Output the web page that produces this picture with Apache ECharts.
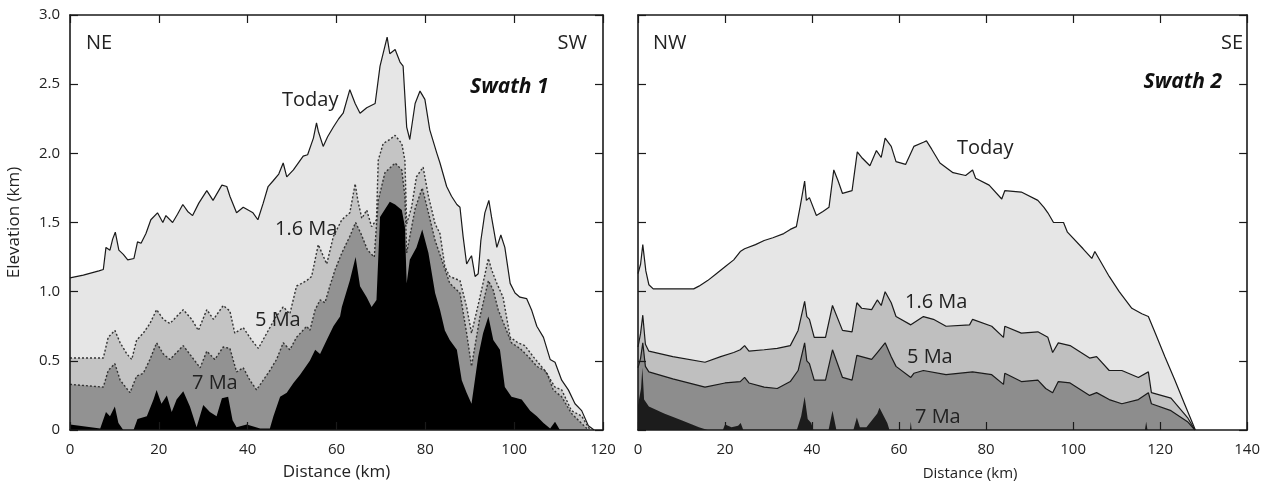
<!DOCTYPE html>
<html>
<head>
<meta charset="utf-8">
<script src="https://cdn.jsdelivr.net/npm/echarts@6/dist/echarts.min.js"></script>
<style>
  html, body { margin: 0; padding: 0; background: #fff; }
  #chart { width: 1263px; height: 487px; }
</style>
</head>
<body>
<div id="chart"></div>
<script>
// Swath 1 (NE -> SW), [distance km, elevation km]
const s1Today = [[0,1.10],[3,1.12],[6.5,1.15],[7.5,1.16],[8.1,1.32],[9,1.30],[9.6,1.38],[10.2,1.43],[11,1.30],[12,1.27],[13,1.23],[14.4,1.24],[15.2,1.36],[16,1.35],[17.1,1.42],[18.2,1.52],[19.7,1.57],[20.9,1.50],[21.6,1.55],[23.1,1.50],[24.2,1.56],[25.4,1.63],[26.5,1.58],[27.6,1.55],[29,1.64],[30.8,1.73],[32.2,1.66],[34.2,1.77],[35.3,1.76],[36,1.69],[37.5,1.57],[39,1.61],[41.2,1.57],[42.3,1.52],[43.5,1.64],[44.6,1.76],[45.7,1.80],[47,1.85],[48,1.93],[48.8,1.83],[50.3,1.88],[52.5,1.98],[53.5,1.99],[54.8,2.11],[55.5,2.22],[55.9,2.16],[57,2.05],[58,2.12],[59.3,2.19],[60.5,2.25],[61.5,2.29],[63,2.46],[64.2,2.36],[65.3,2.29],[66.8,2.33],[68.7,2.36],[69.8,2.63],[71.4,2.84],[72,2.72],[73.2,2.75],[74.3,2.66],[75,2.63],[75.8,2.19],[76.5,2.10],[77.7,2.36],[78.8,2.45],[79.9,2.39],[81,2.17],[82.6,2.00],[83.3,1.93],[84.8,1.76],[85.9,1.69],[87.1,1.63],[87.8,1.61],[88.5,1.40],[89.3,1.20],[90,1.24],[90.4,1.26],[91.2,1.11],[91.9,1.13],[92.5,1.37],[93.4,1.57],[94.3,1.66],[94.9,1.54],[96.1,1.32],[97,1.41],[97.9,1.32],[99.1,1.06],[100.2,0.99],[101.3,0.96],[102.8,0.95],[103.9,0.87],[105.1,0.75],[106.6,0.67],[108.1,0.51],[109.2,0.49],[110.7,0.36],[112.2,0.29],[113.7,0.19],[115.2,0.14],[116.7,0.03],[118,0]];
const s1Ma16 = [[0,0.52],[7.5,0.52],[8.6,0.67],[10.1,0.72],[11.3,0.63],[12.8,0.55],[13.9,0.51],[15,0.65],[16.5,0.70],[18,0.77],[19.5,0.87],[21,0.80],[22.5,0.77],[24,0.82],[25.5,0.87],[27.4,0.80],[28.9,0.72],[30.8,0.87],[32.3,0.80],[34.5,0.90],[36,0.86],[37.1,0.70],[39,0.74],[40.9,0.65],[42.4,0.59],[44.3,0.70],[46.2,0.81],[48,0.89],[49.5,0.84],[51,1.04],[53.3,1.08],[54.4,1.11],[55.5,1.28],[55.9,1.34],[57.8,1.20],[59.3,1.40],[61.2,1.52],[63,1.57],[64.2,1.78],[64.8,1.66],[65.7,1.53],[66.8,1.59],[67.9,1.47],[69,1.52],[69.4,1.95],[70.5,2.07],[72,2.10],[73.2,2.13],[74.7,2.07],[75.4,1.95],[75.8,1.49],[76.9,1.61],[78,1.83],[79.5,1.90],[80.7,1.69],[82.2,1.49],[83.3,1.42],[84.4,1.18],[85.5,1.11],[87.8,1.08],[89.3,0.89],[90.4,0.70],[92.3,0.96],[94.2,1.24],[94.9,1.16],[96.1,1.06],[97.5,0.96],[99.1,0.67],[100.9,0.63],[102.4,0.61],[104.3,0.53],[106.9,0.43],[109.2,0.31],[110.7,0.29],[112.9,0.14],[115.2,0.10],[117.1,0]];
const s1Ma5 = [[0,0.33],[7.5,0.31],[8.6,0.43],[10.1,0.48],[11.3,0.36],[13.5,0.27],[15,0.39],[16.5,0.41],[18,0.51],[19.5,0.63],[21,0.55],[22.5,0.51],[25.5,0.61],[27.4,0.53],[29.3,0.45],[30.8,0.57],[32.6,0.51],[34.5,0.60],[36,0.59],[37.5,0.42],[39,0.45],[40.5,0.36],[42,0.29],[43.5,0.36],[45,0.43],[46.5,0.51],[48,0.63],[49.5,0.58],[51,0.67],[53.3,0.75],[54,0.72],[55.2,0.87],[56.3,0.94],[57.4,0.92],[58.5,1.04],[59.7,1.16],[61.2,1.28],[63,1.40],[64.3,1.50],[65.5,1.42],[67,1.30],[68.5,1.25],[69.4,1.66],[70.9,1.86],[73.2,1.93],[74.7,1.88],[75.4,1.69],[75.8,1.28],[77.7,1.60],[79.3,1.75],[80.7,1.57],[82.2,1.37],[83.7,1.23],[85.5,1.06],[87.8,0.99],[89.3,0.70],[90.4,0.46],[92.3,0.82],[94.2,1.08],[95.3,1.01],[96.4,0.87],[97.9,0.75],[99.4,0.63],[101.3,0.59],[103.2,0.53],[105.1,0.46],[107.3,0.42],[108.8,0.29],[110.7,0.24],[112.9,0.12],[114.8,0.06],[116.7,0]];
const s1Ma7 = [[0,0.04],[6.8,0.01],[8.1,0.13],[9,0.10],[10.1,0.17],[10.9,0.05],[12,0],[14.3,0],[15.2,0.08],[17.3,0.10],[18.8,0.22],[19.5,0.29],[20.6,0.19],[21.8,0.25],[22.9,0.13],[24,0.22],[25.5,0.28],[27,0.17],[28.5,0.02],[30,0.18],[31.5,0.13],[33,0.10],[34.2,0.23],[35.6,0.24],[36.6,0.07],[37.5,0.02],[39.8,0.04],[42.8,0.01],[45,0.01],[45.8,0.10],[47.3,0.24],[48.8,0.27],[50.3,0.34],[51.8,0.40],[54,0.50],[55.2,0.58],[56.3,0.55],[57.8,0.65],[59.3,0.75],[60.8,0.82],[61.2,0.89],[63,1.08],[64.3,1.25],[65.3,1.04],[66.8,0.96],[67.9,0.89],[69,0.94],[69.8,1.54],[72,1.65],[73.2,1.63],[74.7,1.59],[75.4,1.47],[75.8,1.06],[76.5,1.23],[78,1.32],[79.3,1.45],[80.7,1.28],[82.2,0.99],[83.3,0.87],[84.4,0.72],[85.5,0.65],[87.1,0.58],[88.2,0.36],[89.3,0.27],[90.4,0.19],[91.9,0.53],[93,0.70],[94.2,0.82],[95.3,0.65],[96.8,0.58],[97.9,0.31],[99.4,0.24],[101.7,0.22],[103.6,0.14],[105.1,0.10],[106.6,0.05],[108.1,0.01],[109.2,0.06],[110.3,0]];

// Swath 2 (NW -> SE)
const s2Today = [[0,1.13],[0.6,1.20],[1.1,1.34],[1.8,1.15],[2.5,1.05],[3.5,1.02],[12.8,1.02],[14,1.04],[16,1.08],[18,1.13],[20,1.18],[22,1.23],[23.5,1.29],[24.5,1.31],[27,1.34],[29,1.37],[31,1.39],[33.5,1.42],[35,1.45],[36.4,1.47],[37.3,1.62],[38.3,1.80],[38.7,1.66],[39.4,1.68],[41,1.55],[42.5,1.58],[43.9,1.61],[45,1.88],[46,1.80],[47,1.71],[49.2,1.73],[50.4,2.01],[51.4,1.97],[53.3,1.91],[54.8,2.02],[55.9,1.97],[56.8,2.11],[58.2,2.05],[59.3,1.94],[61.5,1.92],[63.4,2.05],[65.6,2.08],[66.3,2.09],[67.5,2.03],[69.4,1.93],[72.4,1.86],[75.3,1.84],[76.9,1.88],[77.6,1.82],[80.7,1.77],[83.6,1.67],[84.3,1.73],[88.1,1.72],[91.9,1.66],[93.3,1.61],[94.2,1.57],[95.5,1.50],[97.8,1.50],[98.7,1.43],[102.3,1.31],[104.3,1.24],[105,1.29],[108.3,1.11],[110.6,1.00],[113.5,0.88],[115.8,0.84],[117.3,0.82],[118.9,0.70],[121.1,0.53],[123.4,0.36],[125.6,0.19],[128.1,0]];
const s2Ma16 = [[0,0.60],[0.6,0.70],[1.1,0.83],[1.7,0.62],[2.5,0.57],[8,0.53],[15.4,0.49],[19,0.53],[22,0.56],[23.5,0.58],[24.5,0.61],[25.5,0.57],[29,0.58],[32,0.59],[35,0.61],[36.8,0.72],[38.3,0.93],[38.8,0.82],[39.4,0.80],[40.5,0.67],[43.1,0.67],[44.7,0.90],[47,0.72],[49.2,0.71],[50.3,0.92],[51.4,0.88],[53.7,0.87],[55,0.94],[55.9,0.90],[56.8,1.00],[58.2,0.92],[59.3,0.82],[62.7,0.76],[65.6,0.82],[67.9,0.80],[70.8,0.75],[76.2,0.76],[76.9,0.80],[81.3,0.75],[84,0.67],[84.3,0.75],[88.1,0.70],[91.9,0.71],[94.2,0.67],[95.3,0.56],[96.6,0.63],[99.3,0.61],[103.8,0.52],[105.4,0.53],[108.3,0.43],[111.2,0.43],[115,0.38],[117.3,0.42],[118,0.27],[122.5,0.23],[126.3,0.09],[128,0]];
const s2Ma5 = [[0,0.45],[0.6,0.52],[1.1,0.63],[1.7,0.46],[2.5,0.42],[8,0.37],[15.4,0.31],[20,0.34],[23.5,0.35],[24.5,0.38],[25.5,0.34],[29,0.31],[32,0.30],[35,0.35],[36.8,0.43],[38.3,0.63],[38.8,0.50],[39.4,0.48],[40.5,0.36],[43.1,0.36],[44.7,0.58],[47,0.38],[49.2,0.36],[50.3,0.54],[53.7,0.51],[55,0.56],[56.8,0.63],[58.2,0.53],[59.3,0.46],[62.7,0.38],[63.4,0.41],[65.6,0.43],[70.8,0.40],[76.9,0.42],[81.3,0.40],[84,0.33],[84.3,0.41],[88.1,0.35],[91.9,0.36],[93.7,0.30],[95.3,0.27],[96.6,0.35],[99.3,0.34],[103.8,0.25],[105.4,0.27],[108.3,0.22],[111.2,0.19],[115,0.22],[117.3,0.27],[118,0.19],[122.5,0.14],[126.3,0.06],[128,0]];
const s2Ma7 = [[0,0.18],[0.7,0.30],[1.0,0.45],[1.4,0.22],[2.5,0.17],[6,0.12],[10,0.07],[14,0.02],[16,0],[19.5,0],[20,0.04],[21.5,0.02],[23,0.03],[23.6,0.05],[24.2,0],[36.5,0],[37.5,0.10],[38.3,0.24],[39,0.08],[39.8,0.05],[40.3,0],[43.8,0],[44.7,0.14],[45.6,0],[49.5,0],[50.3,0.09],[51,0.02],[52.5,0.02],[54,0.08],[55,0.12],[55.5,0.16],[56.5,0.10],[57.3,0.05],[57.8,0],[62.5,0],[62.7,0.06],[62.9,0],[116.5,0],[116.8,0.06],[117.1,0]];

const font = "'Open Sans', sans-serif";
const ink = '#1a1a1a';

const chart = echarts.init(document.getElementById('chart'));

// one axis helper for all eight axes (bottom/top, left/right of both panels)
const axis = (gi, pos, max, interval, labels, extra) => Object.assign({
  type: 'value', gridIndex: gi, position: pos, min: 0, max, interval, z: 10,
  axisLine: { show: true, onZero: false, lineStyle: { color: ink, width: 1.6 } },
  axisTick: { show: true, inside: true, length: 8, lineStyle: { color: ink, width: 1.2 } },
  axisLabel: { show: labels, color: '#222', fontSize: 15, fontFamily: font },
  splitLine: { show: false }
}, extra || {});

const yFmt = v => (v === 0 ? '0' : v.toFixed(1));

const layer = (data, gi, fill, line) => ({
  type: 'line', xAxisIndex: gi, yAxisIndex: gi, data,
  symbol: 'none', silent: true,
  lineStyle: line || { width: 0 },
  areaStyle: { color: fill, opacity: 1 }
});
const solid = { color: ink, width: 1.2, type: 'solid' };
const dotted = { color: '#333', width: 1.4, type: [2, 2] };

const label = (text, x, y, extra) => ({
  type: 'text', x, y, z: 100,
  style: Object.assign({ text, fill: '#222', font: '20px ' + font, verticalAlign: 'middle' }, extra || {})
});

chart.setOption({
  animation: false,
  grid: [
    { left: 70, top: 15, width: 533, height: 415 },
    { left: 638, top: 15, width: 623, height: 415 }
  ],
  xAxis: [
    axis(0, 'bottom', 120, 20, true, {
      name: 'Distance (km)', nameLocation: 'middle', nameGap: 34,
      nameTextStyle: { color: '#222', fontSize: 17, fontFamily: font },
      axisLabel: { show: true, color: '#222', fontSize: 15, fontFamily: font, margin: 12 }
    }),
    axis(1, 'bottom', 140, 20, true, {
      name: 'Distance (km)', nameLocation: 'middle', nameGap: 36,
      nameTextStyle: { color: '#222', fontSize: 15, fontFamily: font, padding: [0, 0, 0, 55] },
      axisLabel: { show: true, color: '#222', fontSize: 15, fontFamily: font, margin: 12 }
    }),
    axis(0, 'top', 120, 20, false),
    axis(1, 'top', 140, 20, false)
  ],
  yAxis: [
    axis(0, 'left', 3, 0.5, true, {
      name: 'Elevation (km)', nameLocation: 'middle', nameGap: 47,
      nameTextStyle: { color: '#222', fontSize: 17, fontFamily: font },
      axisLabel: { show: true, color: '#222', fontSize: 15, fontFamily: font, margin: 10, formatter: yFmt }
    }),
    axis(1, 'left', 3, 0.5, false),
    axis(0, 'right', 3, 0.5, false),
    axis(1, 'right', 3, 0.5, false)
  ],
  series: [
    layer(s1Today, 0, '#e6e6e6', solid),
    layer(s1Ma16, 0, '#c4c4c4', dotted),
    layer(s1Ma5, 0, '#929292', dotted),
    layer(s1Ma7, 0, '#000000'),
    layer(s2Today, 1, '#e6e6e6', solid),
    layer(s2Ma16, 1, '#bfbfbf', solid),
    layer(s2Ma5, 1, '#8d8d8d', solid),
    layer(s2Ma7, 1, '#1c1c1c')
  ],
  graphic: [
    label('NE', 86, 43),
    label('SW', 587, 43, { align: 'right' }),
    label('Swath 1', 470, 87, { font: 'italic bold 21px ' + font, fill: '#111' }),
    label('Today', 282, 100),
    label('1.6 Ma', 275, 229),
    label('5 Ma', 255, 320),
    label('7 Ma', 192, 383),
    label('NW', 653, 43),
    label('SE', 1243, 43, { align: 'right' }),
    label('Swath 2', 1222, 82, { align: 'right', font: 'italic bold 21px ' + font, fill: '#111' }),
    label('Today', 957, 148),
    label('1.6 Ma', 905, 302),
    label('5 Ma', 907, 357),
    label('7 Ma', 915, 417)
  ]
});
</script>
</body>
</html>
